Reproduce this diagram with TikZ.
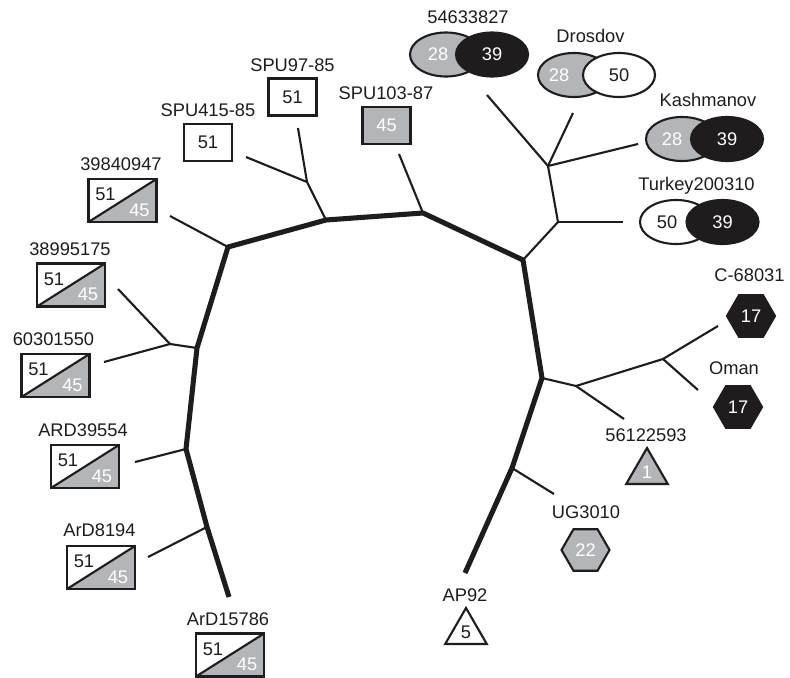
\documentclass[tikz,border=0pt]{standalone}
\usepackage{fontspec}
\setmainfont{Liberation Sans}
\usepackage{tikz}
\usetikzlibrary{shapes.geometric}
\usetikzlibrary{positioning}
\definecolor{midgray}{RGB}{180,181,184}
\definecolor{nearblack}{RGB}{30,28,29}

\begin{document}
\begin{tikzpicture}[
    x=0.025cm, y=-0.025cm,
    font=\fontsize{13}{15}\selectfont,
    text=nearblack,
    splitbox/.style={
        rectangle,
        draw=nearblack,
        fill=white,
        line width=1.7pt,
        inner sep=0pt,
        minimum width=1.7cm,
        minimum height=1.075cm,
        path picture={
            \fill[midgray] (path picture bounding box.south west) -- (path picture bounding box.south east)
                -- (path picture bounding box.north east) -- cycle;
            \draw[nearblack, line width=1.5pt] (path picture bounding box.south west) -- (path picture bounding box.north east);}},
    plainbox/.style={
        rectangle,
        draw=nearblack,
        fill=white,
        line width=1.7pt,
        inner sep=0pt,
        minimum width=1.2cm,
        minimum height=0.93cm},
    ovalnode/.style={
        ellipse,
        draw=nearblack,
        line width=1.5pt,
        inner sep=0pt,
        minimum width=1.8cm,
        minimum height=1.1cm},
    hexnode/.style={
        regular polygon,
        regular polygon sides=6,
        draw=nearblack,
        line width=1.5pt,
        inner sep=0pt,
        minimum size=1.2cm},
    trinode/.style={
        regular polygon,
        regular polygon sides=3,
        draw=nearblack,
        line width=1.5pt,
        inner sep=0pt,
        minimum size=1.2cm},
    numtxt/.style={inner sep=0pt},
    namelbl/.style={anchor=base, inner sep=0pt},
    thinline/.style={-,line width=1.5pt,draw=nearblack},
    thickline/.style={-,line width=3.6pt,draw=nearblack,line join=round}
]

\useasboundingbox (0,0) rectangle (790,678);

% tree junctions
\coordinate (j1) at (228,247);
\coordinate (j2) at (326,220);
\coordinate (j3) at (423,213);
\coordinate (j4) at (523,260);
\coordinate (j5) at (542,378);
\coordinate (j6) at (512,468);
\coordinate (j7) at (197,348);
\coordinate (j8) at (186,449);
\coordinate (j9) at (207,527);
\coordinate (k1) at (307,182);
\coordinate (m1) at (558,222);
\coordinate (m2) at (548,166);
\coordinate (n1) at (170,344);
\coordinate (p1) at (576,386);
\coordinate (p2) at (663,359);

% branch tips
\coordinate (tip-39840947) at (170,216);
\coordinate (tip-38995175) at (118,289);
\coordinate (tip-60301550) at (104,362);
\coordinate (tip-ARD39554) at (135,462);
\coordinate (tip-ArD8194) at (148,557);
\coordinate (tip-ArD15786) at (229,597);
\coordinate (tip-SPU415) at (246,157);
\coordinate (tip-SPU97) at (298,128);
\coordinate (tip-SPU103) at (399,154);
\coordinate (tip-54633827) at (487,95);
\coordinate (tip-Drosdov) at (573,113);
\coordinate (tip-Kashmanov) at (638,144);
\coordinate (tip-Turkey) at (623,222);
\coordinate (tip-C68031) at (718,326);
\coordinate (tip-Oman) at (698,390);
\coordinate (tip-56122593) at (624,419);
\coordinate (tip-UG3010) at (554,494);
\coordinate (tip-AP92) at (465,573);

\draw[thickline] (tip-ArD15786) -- (j9) -- (j8) -- (j7) -- (j1) -- (j2) -- (j3)
    -- (j4) -- (j5) -- (j6) -- (tip-AP92);

\path[thinline]
    (j1) edge (tip-39840947)
    (j2) edge (k1)
    (k1) edge (tip-SPU97)
    (k1) edge (tip-SPU415)
    (j3) edge (tip-SPU103)
    (j4) edge (m1)
    (m1) edge (tip-Turkey)
    (m1) edge (m2)
    (m2) edge (tip-54633827)
    (m2) edge (tip-Drosdov)
    (m2) edge (tip-Kashmanov)
    (j7) edge (n1)
    (n1) edge (tip-38995175)
    (n1) edge (tip-60301550)
    (j8) edge (tip-ARD39554)
    (j9) edge (tip-ArD8194)
    (j5) edge (p1)
    (p1) edge (p2)
    (p2) edge (tip-C68031)
    (p2) edge (tip-Oman)
    (p1) edge (tip-56122593)
    (j6) edge (tip-UG3010);

% split boxes 51/45
\foreach \n/\px/\py/\nm/\lx/\ly in {
    a/122.5/200.5/39840947/121/170,
    b/71/285/38995175/70/255,
    c/55.5/375.5/60301550/53.5/345,
    d/85/466.5/ARD39554/83/436,
    e/101/567.5/ArD8194/99.5/536.7,
    f/230/655/ArD15786/228/625}{
    \node[splitbox] (box-\n) at (\px,\py) {};
    \node[numtxt] (box-\n-hi) at ([shift={(-17,-6)}]box-\n.center) {51};
    \node[numtxt, text=white] (box-\n-lo) at ([shift={(17,9.5)}]box-\n.center) {45};
    \node[namelbl] (lbl-\n) at (\lx,\ly) {\nm};
}

% single boxes
\node[plainbox] (box-SPU415) at (208,142.5) {51};
\node[namelbl] (lbl-SPU415) at (208,116) {SPU415-85};
\node[plainbox] (box-SPU97) at (292.5,97) {51};
\node[namelbl] (lbl-SPU97) at (292.5,71.7) {SPU97-85};
\node[plainbox, fill=midgray, text=white] (box-SPU103) at (386.5,125.5) {45};
\node[namelbl] (lbl-SPU103) at (386,99) {SPU103-87};

% ellipse pairs
\node[ovalnode, fill=midgray] (ov-546-l) at (446,54.5) {};
\node[ovalnode, fill=nearblack, text=white] (ov-546-r) at (492,54.5) {39};
\node[numtxt, text=white] (ov-546-t) at (438,54.5) {28};
\node[namelbl] (lbl-546) at (468,23.3) {54633827};

\node[ovalnode, fill=midgray] (ov-dro-l) at (574,75) {};
\node[ovalnode, fill=white] (ov-dro-r) at (619,75) {50};
\node[numtxt, text=white] (ov-dro-t) at (559,75) {28};
\node[namelbl] (lbl-dro) at (590.5,42.3) {Drosdov};

\node[ovalnode, fill=midgray] (ov-kas-l) at (682,139) {};
\node[ovalnode, fill=nearblack, text=white] (ov-kas-r) at (727,139) {39};
\node[numtxt, text=white] (ov-kas-t) at (672,139) {28};
\node[namelbl] (lbl-kas) at (708,106.7) {Kashmanov};

\node[ovalnode, fill=white] (ov-tur-l) at (676,222) {};
\node[ovalnode, fill=nearblack, text=white] (ov-tur-r) at (722.5,222) {39};
\node[numtxt] (ov-tur-t) at (667,222) {50};
\node[namelbl] (lbl-tur) at (696.5,190.7) {Turkey200310};

% hexagons
\node[hexnode, fill=nearblack, text=white] (hex-C68031) at (751,316) {17};
\node[namelbl] (lbl-C68031) at (749.5,281.7) {C-68031};
\node[hexnode, fill=nearblack, text=white] (hex-Oman) at (738,407) {17};
\node[namelbl] (lbl-Oman) at (734,374.3) {Oman};
\node[hexnode, fill=midgray, text=white] (hex-UG3010) at (585.5,550) {22};
\node[namelbl] (lbl-UG3010) at (586,518) {UG3010};

% triangles
\node[trinode, fill=midgray, text=white] (tri-561) at (647,472) {1};
\node[namelbl] (lbl-561) at (646,441.7) {56122593};
\node[trinode, fill=white] (tri-AP92) at (466,632) {5};
\node[namelbl] (lbl-AP92) at (465,601.7) {AP92};

\end{tikzpicture}
\end{document}
